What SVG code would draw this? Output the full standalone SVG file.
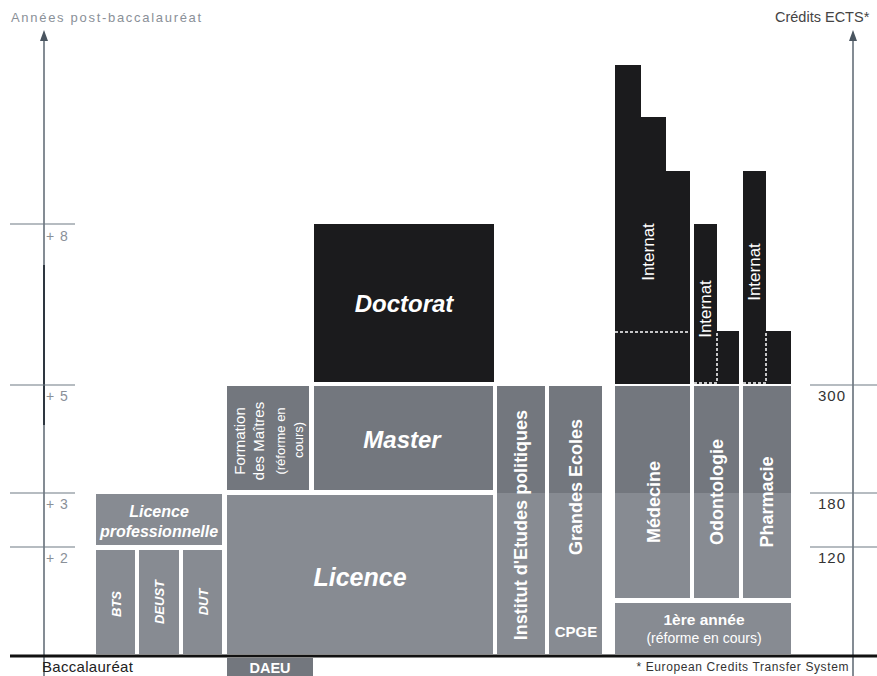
<svg xmlns="http://www.w3.org/2000/svg" width="877" height="676" viewBox="0 0 877 676">
<defs>
<style>
.dk{fill:#73777e}
.lt{fill:#878b92}
.bk{fill:#1b1b1d}
.axis{stroke:#5b6670;stroke-width:1.5;fill:none}
.tick{stroke:#6f7a84;stroke-width:1.2}
.arrow{fill:#4a5560}
.wt{fill:#ffffff;font-family:"Liberation Sans",Arial,sans-serif;font-weight:bold}
.wn{fill:#ffffff;font-family:"Liberation Sans",Arial,sans-serif}
.bi{font-style:italic;font-weight:bold}
.lbl{fill:#8a9098;font-family:"Liberation Sans",Arial,sans-serif;font-size:14px;letter-spacing:1px}
.rlbl{fill:#333333;font-family:"Liberation Sans",Arial,sans-serif;font-size:15px;letter-spacing:1px}
.dash{stroke:#ffffff;stroke-width:1.5;stroke-dasharray:3 2;fill:none}
</style>
</defs>
<rect width="877" height="676" fill="#ffffff"/>

<g id="connectors">
<line class="axis" x1="44" y1="676" x2="44" y2="38"/>
<line x1="44" y1="265" x2="44" y2="425" stroke="#2e3640" stroke-width="2"/>
<polygon class="arrow" points="44,30 40,41 48,41"/>
<line class="axis" x1="853" y1="676" x2="853" y2="38"/>
<polygon class="arrow" points="853,30 849,41 857,41"/>
<line class="tick" x1="10" y1="224" x2="75" y2="224"/>
<line class="tick" x1="10" y1="385" x2="75" y2="385"/>
<line class="tick" x1="10" y1="493" x2="75" y2="493"/>
<line class="tick" x1="10" y1="547" x2="75" y2="547"/>
<line class="tick" x1="810" y1="385" x2="877" y2="385"/>
<line class="tick" x1="810" y1="493" x2="877" y2="493"/>
<line class="tick" x1="810" y1="547" x2="877" y2="547"/>
<line x1="10" y1="656" x2="877" y2="656" stroke="#111111" stroke-width="3"/>
</g>

<g id="axis-labels">
<text x="11" y="22" fill="#8a9098" font-family="'Liberation Sans',Arial,sans-serif" font-size="13" letter-spacing="1.7">Années post-baccalauréat</text>
<text x="775" y="22" fill="#444444" font-family="'Liberation Sans',Arial,sans-serif" font-size="14.5">Crédits ECTS*</text>
<text class="lbl" x="46" y="241">+ 8</text>
<text class="lbl" x="46" y="401">+ 5</text>
<text class="lbl" x="46" y="509">+ 3</text>
<text class="lbl" x="46" y="563">+ 2</text>
<text class="rlbl" x="818" y="401">300</text>
<text class="rlbl" x="818" y="509">180</text>
<text class="rlbl" x="818" y="563">120</text>
<text x="42" y="672" fill="#222222" font-family="'Liberation Sans',Arial,sans-serif" font-size="15" letter-spacing="0.3">Baccalauréat</text>
<text x="849" y="671" text-anchor="end" fill="#333333" font-family="'Liberation Sans',Arial,sans-serif" font-size="12" letter-spacing="0.6">* European Credits Transfer System</text>
</g>

<g id="daeu">
<rect class="dk" x="227" y="658" width="86" height="18"/>
<text class="wt" x="270" y="673" text-anchor="middle" font-size="14.5">DAEU</text>
</g>

<g id="licence-pro">
<rect class="lt" x="96" y="494" width="126" height="51"/>
<text class="wt bi" x="159" y="517" text-anchor="middle" font-size="16">Licence</text>
<text class="wt bi" x="159" y="537" text-anchor="middle" font-size="16">professionnelle</text>
</g>

<g id="bts">
<rect class="lt" x="96" y="550" width="39" height="104"/>
<text class="wt bi" transform="translate(121,604) rotate(-90)" text-anchor="middle" font-size="13">BTS</text>
</g>
<g id="deust">
<rect class="lt" x="139" y="550" width="40" height="104"/>
<text class="wt bi" transform="translate(164,602) rotate(-90)" text-anchor="middle" font-size="13">DEUST</text>
</g>
<g id="dut">
<rect class="lt" x="183" y="550" width="39" height="104"/>
<text class="wt bi" transform="translate(208,602) rotate(-90)" text-anchor="middle" font-size="13">DUT</text>
</g>

<g id="licence">
<rect class="lt" x="227" y="495" width="266" height="159"/>
<text class="wt bi" x="360" y="586" text-anchor="middle" font-size="25">Licence</text>
</g>

<g id="formation">
<rect class="dk" x="227" y="386" width="82" height="104"/>
<text class="wn" transform="translate(245,441) rotate(-90)" text-anchor="middle" font-size="15">Formation</text>
<text class="wn" transform="translate(264,441) rotate(-90)" text-anchor="middle" font-size="15">des Maîtres</text>
<text class="wn" transform="translate(285,441) rotate(-90)" text-anchor="middle" font-size="13">(réforme en</text>
<text class="wn" transform="translate(303,440) rotate(-90)" text-anchor="middle" font-size="13">cours)</text>
</g>

<g id="master">
<rect class="dk" x="314" y="386" width="179" height="104"/>
<text class="wt bi" x="402" y="448" text-anchor="middle" font-size="24">Master</text>
</g>

<g id="doctorat">
<rect class="bk" x="314" y="224" width="180" height="158"/>
<text class="wt bi" x="404" y="312" text-anchor="middle" font-size="24">Doctorat</text>
</g>

<g id="iep">
<rect class="dk" x="497" y="386" width="48" height="107"/>
<rect class="lt" x="497" y="493" width="48" height="161"/>
<text class="wt" transform="translate(527,525) rotate(-90)" text-anchor="middle" font-size="18">Institut d'Etudes politiques</text>
</g>

<g id="grandes-ecoles">
<rect class="dk" x="549" y="386" width="53" height="107"/>
<rect class="lt" x="549" y="493" width="53" height="161"/>
<text class="wt" transform="translate(582,487) rotate(-90)" text-anchor="middle" font-size="18">Grandes Ecoles</text>
<text class="wt" x="576" y="637" text-anchor="middle" font-size="15">CPGE</text>
</g>

<g id="medecine">
<path class="bk" d="M615,65 H641 V117 H666 V171 H690 V384 H615 Z"/>
<line class="dash" x1="615" y1="332" x2="690" y2="332"/>
<text class="wn" transform="translate(654,252) rotate(-90)" text-anchor="middle" font-size="17">Internat</text>
<rect class="dk" x="615" y="386" width="75" height="107"/>
<rect class="lt" x="615" y="493" width="75" height="105"/>
<text class="wt" transform="translate(660,502) rotate(-90)" text-anchor="middle" font-size="18">Médecine</text>
</g>

<g id="odontologie">
<path class="bk" d="M694,224 H717 V331 H739 V384 H694 Z"/>
<path class="dash" d="M694,383 H717 V332"/>
<text class="wn" transform="translate(711,309) rotate(-90)" text-anchor="middle" font-size="17">Internat</text>
<rect class="dk" x="694" y="386" width="45" height="107"/>
<rect class="lt" x="694" y="493" width="45" height="105"/>
<text class="wt" transform="translate(723,492) rotate(-90)" text-anchor="middle" font-size="18">Odontologie</text>
</g>

<g id="pharmacie">
<path class="bk" d="M743,171 H766 V331 H791 V384 H743 Z"/>
<path class="dash" d="M743,383 H766 V332"/>
<text class="wn" transform="translate(760,272) rotate(-90)" text-anchor="middle" font-size="17">Internat</text>
<rect class="dk" x="743" y="386" width="48" height="107"/>
<rect class="lt" x="743" y="493" width="48" height="105"/>
<text class="wt" transform="translate(773,502) rotate(-90)" text-anchor="middle" font-size="18">Pharmacie</text>
</g>

<g id="premiere-annee">
<rect class="lt" x="615" y="603" width="176" height="51"/>
<text class="wt" x="704" y="625" text-anchor="middle" font-size="15.5">1ère année</text>
<text class="wn" x="704" y="643" text-anchor="middle" font-size="14">(réforme en cours)</text>
</g>
</svg>
